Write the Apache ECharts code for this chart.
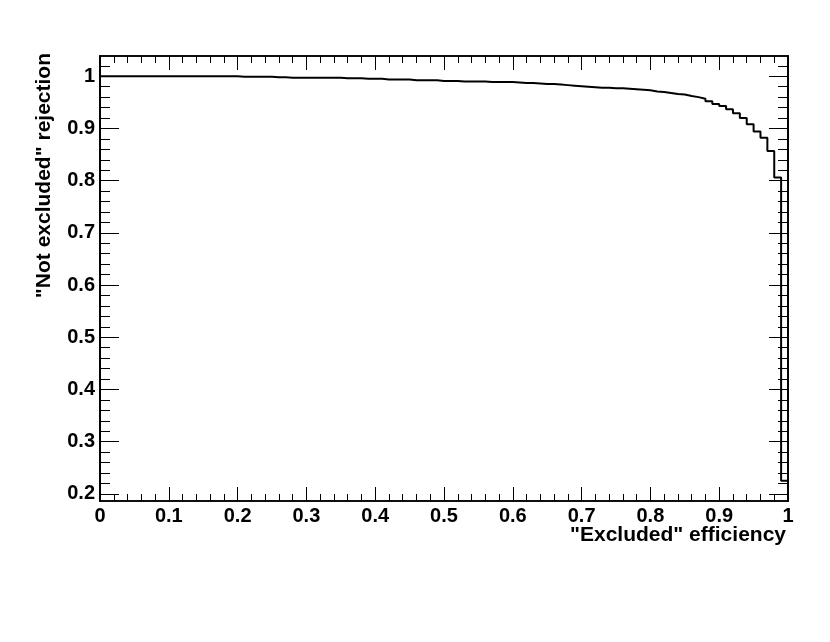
<!DOCTYPE html>
<html>
<head>
<meta charset="utf-8">
<script src="https://cdn.jsdelivr.net/npm/echarts@6/dist/echarts.min.js"></script>
<style>html,body{margin:0;padding:0;background:#fff;}#c{width:830px;height:642px;}</style>
</head>
<body>
<div id="c"></div>
<script>
// ---- data ----
const xTitle = '"Excluded" efficiency';
const yTitle = '"Not excluded" rejection';
const binWidth = 0.01;           // 100 bins on [0,1]
const binValues = [
  1.000,1.000,1.000,1.000,1.000,1.000,1.000,1.000,1.000,1.000,
  1.000,1.000,1.000,1.000,1.000,1.000,1.000,1.000,1.000,1.000,
  0.999,0.999,0.999,0.999,0.999,0.998,0.998,0.997,0.997,0.997,
  0.997,0.997,0.997,0.997,0.997,0.996,0.996,0.996,0.995,0.995,
  0.995,0.994,0.994,0.994,0.994,0.9925,0.9925,0.9925,0.9925,0.991,
  0.991,0.991,0.990,0.990,0.990,0.990,0.989,0.989,0.989,0.989,
  0.988,0.987,0.987,0.986,0.985,0.985,0.984,0.983,0.982,0.981,
  0.980,0.979,0.978,0.978,0.977,0.977,0.976,0.975,0.974,0.973,
  0.971,0.970,0.968,0.966,0.965,0.962,0.960,0.957,0.952,0.947,
  0.943,0.937,0.929,0.920,0.908,0.894,0.882,0.857,0.806,0.225
];
const xTicks = [0, 0.1, 0.2, 0.3, 0.4, 0.5, 0.6, 0.7, 0.8, 0.9, 1];
const yTicks = [0.2, 0.3, 0.4, 0.5, 0.6, 0.7, 0.8, 0.9, 1];
const yMin = 0.1863, yMax = 1.0388;

// minor y ticks every 0.02 between majors
const yMinor = [];
for (let k = 10; k <= 51; k++) {
  if (k % 5 !== 0) yMinor.push(Math.round(k * 0.02 * 1000) / 1000);
}

// histogram step points (bin low edges + final edge)
const stepData = binValues.map((v, i) => [Math.round(i * binWidth * 1000) / 1000, v]);
stepData.push([1, binValues[binValues.length - 1]]);

const FONT = '"Liberation Sans", Arial, Helvetica, sans-serif';
const black = '#000';

const chart = echarts.init(document.getElementById('c'), null, {renderer: 'canvas'});
const yBase = {
  type: 'value', min: yMin, max: yMax, splitLine: {show: false},
  axisLine: {show: true, onZero: false, lineStyle: {color: black, width: 1.5}}
};
chart.setOption({
  animation: false,
  backgroundColor: '#fff',
  grid: {left: 100, right: 42, top: 56, bottom: 141, show: true, borderColor: black, borderWidth: 1.5, backgroundColor: '#fff'},
  xAxis: [
    {
      type: 'value', min: 0, max: 1, interval: 0.1, position: 'bottom',
      axisLine: {show: true, onZero: false, lineStyle: {color: black, width: 1.5}},
      axisTick: {show: true, inside: true, length: 14, lineStyle: {color: black, width: 1}},
      minorTick: {show: true, splitNumber: 5, length: 7, lineStyle: {color: black, width: 1}},
      axisLabel: {margin: 5, color: black, fontFamily: FONT, fontWeight: 'bold', fontSize: 20,
        customValues: xTicks, formatter: v => String(v)},
      splitLine: {show: false}, minorSplitLine: {show: false}
    },
    {
      type: 'value', min: 0, max: 1, interval: 0.1, position: 'top',
      axisLine: {show: true, onZero: false, lineStyle: {color: black, width: 1.5}},
      axisTick: {show: true, inside: true, length: 14, lineStyle: {color: black, width: 1}},
      minorTick: {show: true, splitNumber: 5, length: 7, lineStyle: {color: black, width: 1}},
      axisLabel: {show: false},
      splitLine: {show: false}, minorSplitLine: {show: false}
    }
  ],
  yAxis: [
    Object.assign({}, yBase, {
      position: 'left',
      axisTick: {show: true, inside: true, length: 19, customValues: yTicks, lineStyle: {color: black, width: 1}},
      axisLabel: {show: true, margin: 5, color: black, fontFamily: FONT, fontWeight: 'bold', fontSize: 20,
        customValues: yTicks, formatter: v => String(v)}
    }),
    Object.assign({}, yBase, {
      position: 'left',
      axisTick: {show: true, inside: true, length: 10, customValues: yMinor, lineStyle: {color: black, width: 1}},
      axisLabel: {show: false}
    }),
    Object.assign({}, yBase, {
      position: 'right',
      axisTick: {show: true, inside: true, length: 19, customValues: yTicks, lineStyle: {color: black, width: 1}},
      axisLabel: {show: false}
    }),
    Object.assign({}, yBase, {
      position: 'right',
      axisTick: {show: true, inside: true, length: 10, customValues: yMinor, lineStyle: {color: black, width: 1}},
      axisLabel: {show: false}
    })
  ],
  graphic: [
    {
      type: 'text', right: 44, top: 525,
      style: {text: xTitle, fill: black, font: 'bold 21px ' + FONT, textAlign: 'right'}
    },
    {
      type: 'text', x: 44, y: 53, rotation: Math.PI / 2,
      style: {text: yTitle, fill: black, font: 'bold 21px ' + FONT, align: 'right', verticalAlign: 'middle'}
    }
  ],
  series: [{
    type: 'line', xAxisIndex: 0, yAxisIndex: 0,
    data: stepData, step: 'end', showSymbol: false, symbol: 'none',
    lineStyle: {color: black, width: 2}, clip: true, z: 5
  }]
});
</script>
</body>
</html>
